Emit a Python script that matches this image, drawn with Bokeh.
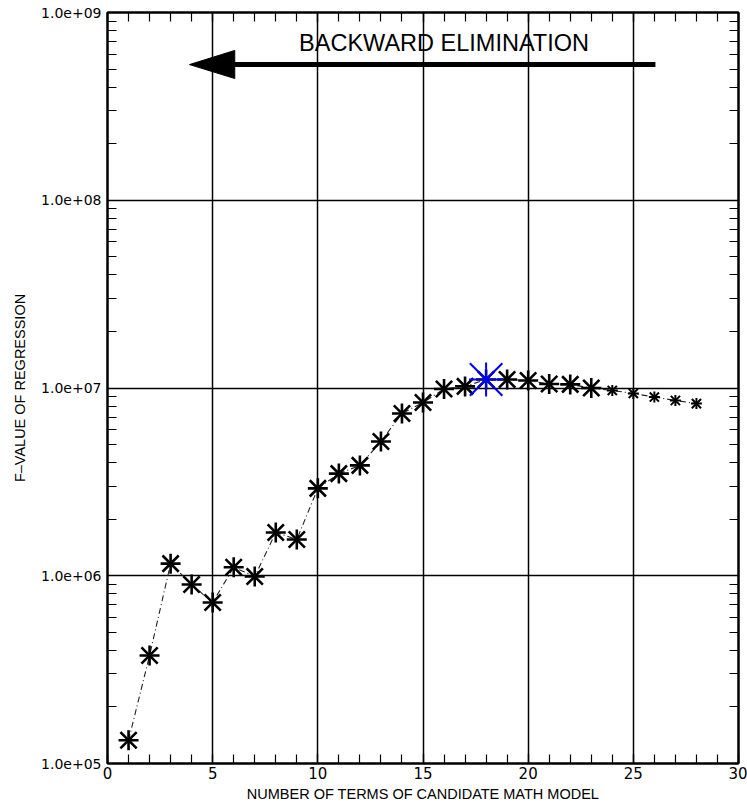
from bokeh.plotting import figure
from bokeh.models import (FixedTicker, LinearAxis, LogAxis, CustomJSTickFormatter, Range1d)
from bokeh.core.properties import value
from bokeh.embed import file_html
from bokeh.resources import INLINE

# ---- data ----
n_terms = list(range(1, 29))
f_values = [1.33e5, 3.76e5, 1.16e6, 8.98e5, 7.2e5, 1.11e6, 9.9e5, 1.70e6, 1.56e6,
            2.92e6, 3.5e6, 3.87e6, 5.19e6, 7.32e6, 8.37e6, 9.88e6, 1.02e7, 1.11e7,
            1.11e7, 1.097e7, 1.05e7, 1.045e7, 1.0e7, 9.7e6, 9.35e6, 8.95e6, 8.58e6, 8.26e6]
big_x = n_terms[:23]
big_y = f_values[:23]
small_x = n_terms[23:]
small_y = f_values[23:]
best_x = [18]
best_y = [1.11e7]

x_ticks = [0, 5, 10, 15, 20, 25, 30]
x_minor = list(range(0, 31))
y_ticks = [1e5, 1e6, 1e7, 1e8, 1e9]
y_minor = [m * 10 ** e for e in range(5, 9) for m in range(1, 10)] + [1e9]

arrow_shaft_x = [26.05, 5.5]
arrow_shaft_y = [5.28e8, 5.28e8]
arrow_head_x = [3.9, 6.05, 6.05]
arrow_head_y = [5.28e8, 6.28e8, 4.45e8]
title_x = [16.0]
title_y = [6.85e8]
title_text = ["BACKWARD ELIMINATION"]

FONT = "Liberation Sans"
TICKFONT = "DejaVu Sans"

p = figure(width=747, height=806, x_axis_type="linear", y_axis_type="log",
           x_range=Range1d(0, 30), y_range=Range1d(1e5, 1e9),
           output_backend="svg", toolbar_location=None,
           min_border_left=107, min_border_right=9, min_border_top=12, min_border_bottom=43)
p.background_fill_color = "white"
p.border_fill_color = "white"
p.outline_line_color = "black"
p.outline_line_width = 2

# axes
fmt = CustomJSTickFormatter(code="return tick.toExponential(1).replace('e+', 'e+0');")
xa = p.xaxis[0]
xa.ticker = FixedTicker(ticks=x_ticks, minor_ticks=x_minor)
ya = p.yaxis[0]
ya.ticker = FixedTicker(ticks=y_ticks, minor_ticks=y_minor)
ya.formatter = fmt

for ax in (xa, ya):
    ax.major_tick_in = 10
    ax.major_tick_out = 0
    ax.minor_tick_in = 9
    ax.minor_tick_out = 0
    ax.axis_line_color = "black"
    ax.axis_line_width = 2
    ax.major_tick_line_color = "black"
    ax.minor_tick_line_color = "black"
    ax.major_tick_line_width = 1.2
    ax.minor_tick_line_width = 1.2
    ax.major_label_text_font = TICKFONT
    ax.major_label_text_color = "black"
    ax.axis_label_text_font = FONT
    ax.axis_label_text_font_size = "14.5px"
    ax.axis_label_text_font_style = "normal"
    ax.axis_label_text_color = "black"

xa.major_label_text_font_size = "15px"
ya.major_label_text_font_size = "14px"
xa.axis_label = "NUMBER OF TERMS OF CANDIDATE MATH MODEL"
xa.major_label_standoff = 3
xa.axis_label_standoff = 4
ya.axis_label = "F\u2013VALUE OF REGRESSION"
ya.major_label_standoff = 6
ya.axis_label_standoff = 10

top = LinearAxis(ticker=FixedTicker(ticks=x_ticks, minor_ticks=x_minor),
                 major_label_text_font_size="0px", major_tick_in=10, major_tick_out=0,
                 minor_tick_in=9, minor_tick_out=0, axis_line_width=2,
                 major_tick_line_width=1.2, minor_tick_line_width=1.2)
top.major_label_text_color = None
p.add_layout(top, "above")
right = LogAxis(ticker=FixedTicker(ticks=y_ticks, minor_ticks=y_minor),
                major_label_text_font_size="0px", major_tick_in=10, major_tick_out=0,
                minor_tick_in=9, minor_tick_out=0, axis_line_width=2,
                major_tick_line_width=1.2, minor_tick_line_width=1.2)
right.major_label_text_color = None
p.add_layout(right, "right")

# grid
p.xgrid.ticker = FixedTicker(ticks=x_ticks)
p.ygrid.ticker = FixedTicker(ticks=y_ticks)
for g in (p.xgrid[0], p.ygrid[0]):
    g.grid_line_color = "black"
    g.grid_line_width = 1.5
    g.grid_line_alpha = 1.0

# connecting line
p.line(n_terms, f_values, line_color="#222222", line_width=1.1, line_dash="6 3 1 3")

# markers (asterisk built from a cross and an x of similar reach)
p.scatter(big_x, big_y, marker="cross", size=20, line_color="black", line_width=2.6)
p.scatter(big_x, big_y, marker="x", size=23, line_color="black", line_width=2.6)
p.scatter(small_x, small_y, marker="cross", size=11, line_color="black", line_width=2)
p.scatter(small_x, small_y, marker="x", size=13, line_color="black", line_width=2)
p.scatter(best_x, best_y, marker="cross", size=34, line_color="#0000ff", line_width=2)
p.scatter(best_x, best_y, marker="x", size=46, line_color="#0000ff", line_width=2)

# annotation arrow and title
p.line(arrow_shaft_x, arrow_shaft_y, line_color="black", line_width=5)
p.patch(arrow_head_x, arrow_head_y, fill_color="black", line_color="black")
p.text(title_x, title_y, text=title_text, text_font=value(FONT), text_font_size="23.5px",
       text_align="center", text_baseline="middle", text_color="black")

open("out.html", "w").write(file_html(p, INLINE))
